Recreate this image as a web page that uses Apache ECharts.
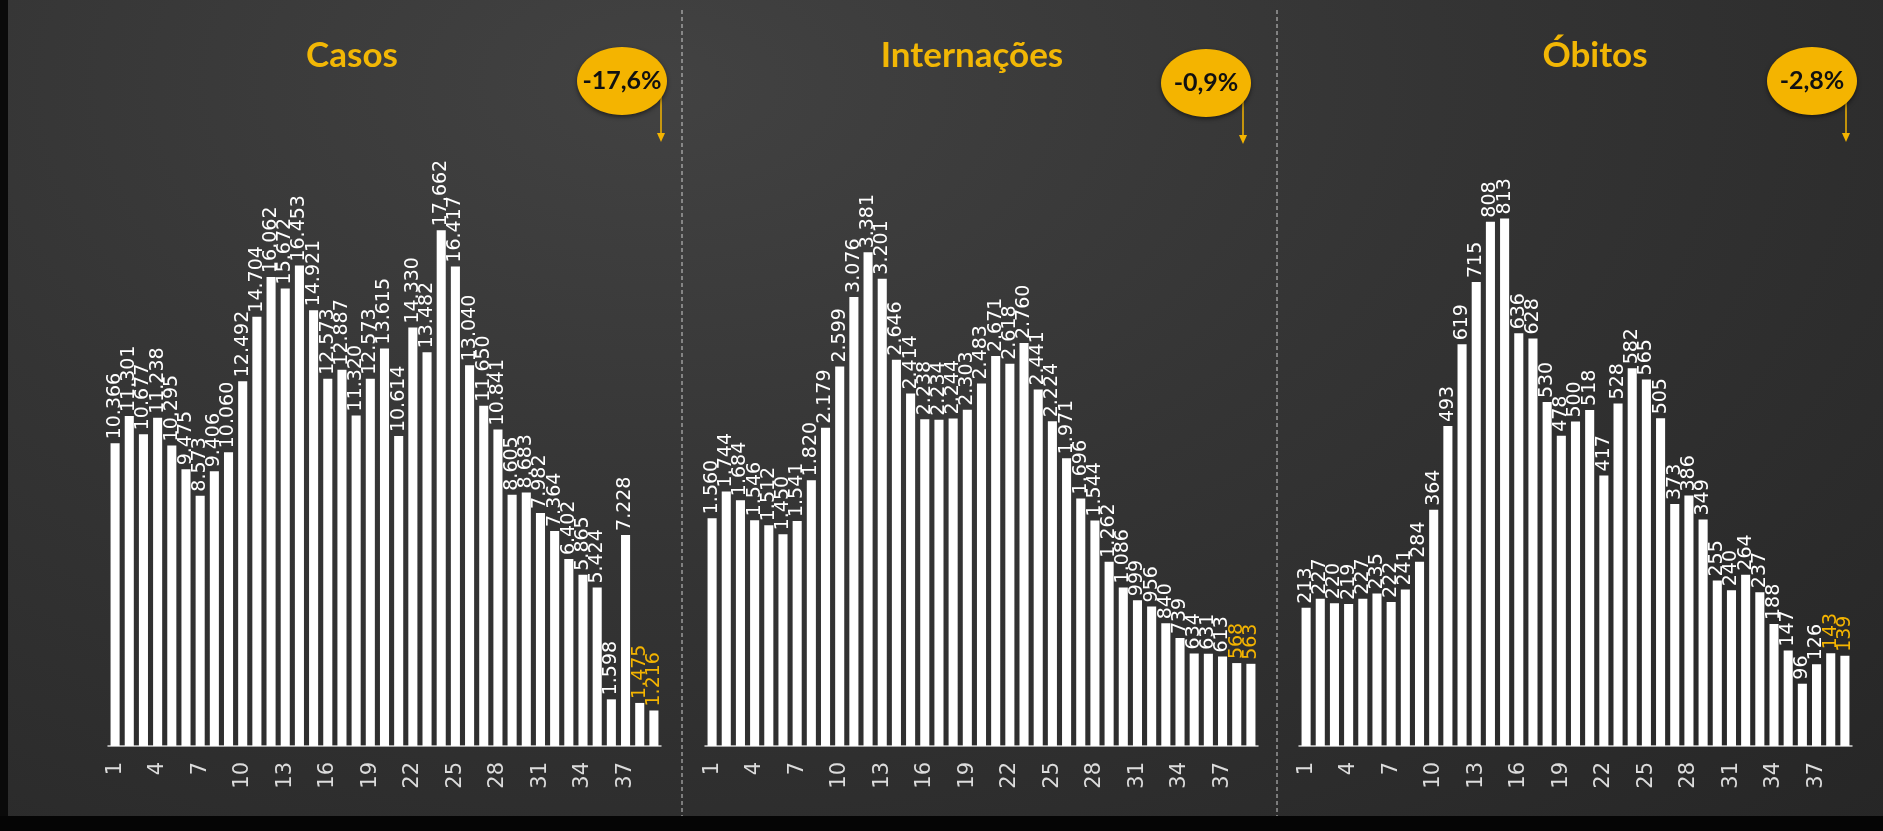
<!DOCTYPE html>
<html>
<head>
<meta charset="utf-8">
<script src="https://cdn.jsdelivr.net/npm/echarts@6/dist/echarts.min.js"></script>
<style>
html,body{margin:0;padding:0;width:1883px;height:831px;overflow:hidden;
background:radial-gradient(ellipse at 35% 10%, #424242 0%, #343434 45%, #262626 100%);}
#c{width:1883px;height:831px;}
</style>
</head>
<body>
<div id="c"></div>
<script>
const categories = ['1','2','3','4','5','6','7','8','9','10','11','12','13','14','15','16','17','18','19','20',
  '21','22','23','24','25','26','27','28','29','30','31','32','33','34','35','36','37','38','39'];

const casos = [10366,11301,10677,11238,10295,9475,8573,9406,10060,12492,14704,16062,15672,16453,14921,
  12573,12887,11320,12573,13615,10614,14330,13482,17662,16417,13040,11650,10841,8605,8683,7982,7364,
  6402,5865,5424,1598,7228,1475,1216];

const internacoes = [1560,1744,1684,1546,1512,1450,1541,1820,2179,2599,3076,3381,3201,2646,2414,2238,
  2234,2244,2303,2483,2671,2618,2760,2441,2224,1971,1696,1544,1262,1086,999,956,840,739,634,631,613,568,563];

const obitos = [213,227,220,219,227,235,222,241,284,364,493,619,715,808,813,636,628,530,478,500,518,417,
  528,582,565,505,373,386,349,255,240,264,237,188,147,96,126,143,139];

const titles = ['Casos','Internações','Óbitos'];
const badges = ['-17,6%','-0,9%','-2,8%'];

const YELLOW = '#F4B400';
const chart = echarts.init(document.getElementById('c'), null, {renderer:'canvas'});

function fmt(v){ return String(v).replace(/\B(?=(\d{3})+(?!\d))/g,'.'); }

const panels = [
  {data:casos, max:20000, left:108},
  {data:internacoes, max:4000, left:705},
  {data:obitos, max:900, left:1299}
];

const grids = [], xAxes = [], yAxes = [], series = [];
panels.forEach((p,i)=>{
  grids.push({left:p.left, width:553, top:162, bottom:85});
  xAxes.push({type:'category', gridIndex:i, data:categories,
    axisLine:{lineStyle:{color:'#d8d8d8', width:1.5}},
    axisTick:{show:false},
    axisLabel:{interval:2, rotate:90, color:'#dcdcdc', fontSize:21, fontFamily:'DejaVu Sans', margin:16}
  });
  yAxes.push({type:'value', gridIndex:i, min:0, max:p.max, show:false, splitLine:{show:false}});
  const n = p.data.length;
  series.push({type:'bar', xAxisIndex:i, yAxisIndex:i, barCategoryGap:'36%',
    itemStyle:{color:'#ffffff'},
    label:{show:true, position:'top', rotate:90, align:'left', verticalAlign:'middle', distance:4,
      color:'#ffffff', fontSize:19, fontFamily:'DejaVu Sans', formatter:(d)=>fmt(d.value)},
    data:p.data.map((v,k)=> k>=n-2 ? {value:v, label:{color:YELLOW}} : v)
  });
});

const titleX = [352, 972, 1595];
const badgeC = [[622,81],[1206,83],[1812,81]];
const arrowX = [661, 1243, 1846];

const graphic = [
  {type:'rect', shape:{x:0,y:0,width:8,height:831}, style:{fill:'#0a0a0a'}, silent:true},
  {type:'rect', shape:{x:0,y:816,width:1883,height:15}, style:{fill:'#050505'}, silent:true},
  {type:'line', shape:{x1:682,y1:10,x2:682,y2:816}, style:{stroke:'#e8e8e8', lineWidth:1, lineDash:[4,3], opacity:0.85}, silent:true},
  {type:'line', shape:{x1:1277,y1:10,x2:1277,y2:816}, style:{stroke:'#e8e8e8', lineWidth:1, lineDash:[4,3], opacity:0.85}, silent:true}
];
titles.forEach((t,i)=>{
  graphic.push({type:'text', x:titleX[i], y:56, style:{text:t, fill:'#F2B705', font:'bold 35px Lato',
    textAlign:'center', textVerticalAlign:'middle', shadowColor:'rgba(0,0,0,0.6)', shadowBlur:3, shadowOffsetY:2}, silent:true});
  const [cx,cy] = badgeC[i];
  const ax = arrowX[i];
  graphic.push({type:'line', shape:{x1:ax,y1:cy+14,x2:ax,y2:cy+54}, style:{stroke:YELLOW, lineWidth:1.5}, silent:true});
  graphic.push({type:'polygon', shape:{points:[[ax-4,cy+52],[ax+4,cy+52],[ax,cy+61]]}, style:{fill:YELLOW}, silent:true});
  graphic.push({type:'ellipse', shape:{cx:cx, cy:cy, rx:45, ry:34}, style:{fill:YELLOW,
    shadowColor:'rgba(0,0,0,0.5)', shadowBlur:4, shadowOffsetY:2}, silent:true});
  graphic.push({type:'text', x:cx, y:cy, style:{text:badges[i], fill:'#111111', font:'bold 25px Lato',
    textAlign:'center', textVerticalAlign:'middle'}, silent:true});
});

chart.setOption({
  backgroundColor:'transparent',
  animation:false,
  grid:grids, xAxis:xAxes, yAxis:yAxes, series:series,
  graphic:graphic
});
</script>
</body>
</html>
